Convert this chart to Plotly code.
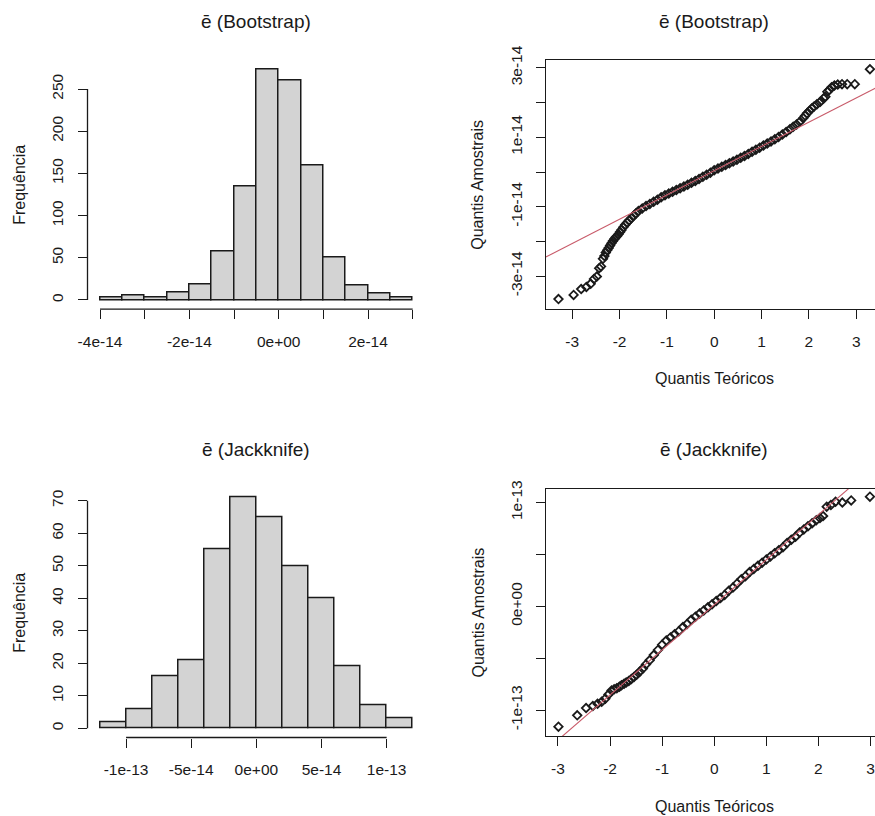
import numpy as np
import plotly.graph_objects as go

# ---------------- data ----------------
# Histogram of bootstrap means
boot_bin_edges = [-4.0e-14, -3.5e-14, -3.0e-14, -2.5e-14, -2.0e-14, -1.5e-14, -1.0e-14, -0.5e-14,
                  0.0, 0.5e-14, 1.0e-14, 1.5e-14, 2.0e-14, 2.5e-14, 3.0e-14]
boot_counts = [3, 6, 3, 9, 18, 58, 135, 273, 260, 160, 50, 17, 8, 3]
boot_hist_xticks = [-4e-14, -3e-14, -2e-14, -1e-14, 0.0, 1e-14, 2e-14, 3e-14]
boot_hist_xtext = ["-4e-14", "", "-2e-14", "", "0e+00", "", "2e-14", ""]
boot_hist_yticks = [0, 50, 100, 150, 200, 250]

# Histogram of jackknife means
jack_bin_edges = [-1.2e-13, -1.0e-13, -0.8e-13, -0.6e-13, -0.4e-13, -0.2e-13, 0.0,
                  0.2e-13, 0.4e-13, 0.6e-13, 0.8e-13, 1.0e-13, 1.2e-13]
jack_counts = [2, 6, 16, 21, 55, 71, 65, 50, 40, 19, 7, 3]
jack_hist_xticks = [-1e-13, -5e-14, 0.0, 5e-14, 1e-13]
jack_hist_xtext = ["-1e-13", "-5e-14", "0e+00", "5e-14", "1e-13"]
jack_hist_yticks = [0, 10, 20, 30, 40, 50, 60, 70]

# Normal QQ plot, bootstrap (theoretical quantile, sample quantile in units of 1e-14)
boot_qq_theoretical = [
    -3.29, -2.97, -2.81, -2.70, -2.61, -2.54, -2.48, -2.43, -2.39, -2.35, -2.32, -2.29, -2.26,
    -2.23, -2.20, -2.17, -2.14, -2.11, -2.08, -2.05, -2.02, -1.99, -1.96, -1.92, -1.88, -1.84,
    -1.80, -1.75, -1.70, -1.65,
    -1.60, -1.52, -1.44, -1.36, -1.28, -1.20, -1.12, -1.04, -0.96, -0.88, -0.80, -0.72, -0.64,
    -0.56, -0.48, -0.40, -0.32, -0.24, -0.16, -0.08, 0.00, 0.08, 0.16, 0.24, 0.32, 0.40, 0.48,
    0.56, 0.64, 0.72, 0.80, 0.88, 0.96, 1.04, 1.12, 1.20, 1.28, 1.36, 1.44, 1.52, 1.60, 1.67,
    1.74, 1.81, 1.88, 1.92, 1.96, 2.01, 2.06, 2.11, 2.17, 2.24, 2.31, 2.35, 2.39, 2.43, 2.48,
    2.54, 2.61, 2.70, 2.81, 2.97, 3.29]
boot_qq_sample_e14 = [
    -3.66, -3.54, -3.37, -3.31, -3.22, -3.08, -3.01, -2.77, -2.72, -2.50, -2.42, -2.32, -2.25,
    -2.19, -2.12, -2.05, -1.99, -1.93, -1.88, -1.84, -1.79, -1.73, -1.67, -1.59, -1.52, -1.46,
    -1.40, -1.33, -1.26, -1.19,
    -1.12, -1.05, -0.98, -0.92, -0.86, -0.80, -0.73, -0.67, -0.62, -0.57, -0.52, -0.47, -0.42,
    -0.37, -0.31, -0.26, -0.20, -0.14, -0.08, -0.02, 0.05, 0.10, 0.15, 0.20, 0.25, 0.30, 0.35,
    0.41, 0.46, 0.52, 0.58, 0.64, 0.70, 0.76, 0.82, 0.88, 0.94, 1.01, 1.08, 1.15, 1.23, 1.30,
    1.37, 1.45, 1.55, 1.62, 1.69, 1.76, 1.83, 1.89, 1.95, 2.02, 2.12, 2.17, 2.31, 2.36, 2.44,
    2.49, 2.52, 2.53, 2.53, 2.53, 2.96]
boot_qqline_intercept = 0.037e-14
boot_qqline_slope = 0.699e-14
boot_qq_yticks = [-3e-14, -2e-14, -1e-14, 0.0, 1e-14, 2e-14, 3e-14]
boot_qq_ytext = ["-3e-14", "", "-1e-14", "", "1e-14", "", "3e-14"]

# Normal QQ plot, jackknife (theoretical quantile, sample quantile in units of 1e-13)
jack_qq_theoretical = [
    -2.99, -2.63, -2.46, -2.33, -2.24, -2.16, -2.09, -2.03, -1.97, -1.92, -1.87, -1.82, -1.78,
    -1.73, -1.69, -1.64, -1.59, -1.54, -1.49, -1.43, -1.37, -1.31,
    -1.24, -1.16, -1.08, -1.00, -0.92, -0.84, -0.76, -0.68, -0.60, -0.52, -0.44, -0.36, -0.28,
    -0.20, -0.12, -0.04, 0.04, 0.12, 0.20, 0.28, 0.36, 0.44, 0.52, 0.60, 0.68, 0.76, 0.84,
    0.92, 1.00, 1.08, 1.16, 1.24, 1.32, 1.40, 1.48, 1.56, 1.64, 1.72, 1.80, 1.88, 1.96, 2.03,
    2.09, 2.16, 2.24, 2.33, 2.46, 2.63, 2.99]
jack_qq_sample_e13 = [
    -1.16, -1.05, -0.98, -0.96, -0.94, -0.92, -0.89, -0.85, -0.81, -0.80, -0.79, -0.775, -0.76,
    -0.745, -0.735, -0.72, -0.70, -0.68, -0.66, -0.63, -0.60, -0.56,
    -0.52, -0.47, -0.42, -0.37, -0.33, -0.30, -0.27, -0.24, -0.20, -0.17, -0.13, -0.10, -0.07,
    -0.04, -0.01, 0.02, 0.05, 0.08, 0.11, 0.15, 0.18, 0.22, 0.26, 0.29, 0.33, 0.36, 0.39,
    0.42, 0.45, 0.48, 0.51, 0.54, 0.57, 0.61, 0.64, 0.67, 0.71, 0.74, 0.77, 0.80, 0.83, 0.85,
    0.87, 0.96, 0.976, 1.008, 1.00, 1.02, 1.056]
jack_qqline_intercept = 0.0135e-13
jack_qqline_slope = 0.434e-13
jack_qq_yticks = [-1e-13, -5e-14, 0.0, 5e-14, 1e-13]
jack_qq_ytext = ["-1e-13", "", "0e+00", "", "1e-13"]

qq_xticks = [-3, -2, -1, 0, 1, 2, 3]
qq_xtext = ["-3", "-2", "-1", "0", "1", "2", "3"]

# ---------------- layout helpers ----------------
W, H = 875, 816
FONT = "Liberation Sans, Arial, sans-serif"
INK = "#1a1a1a"
TICKFONT = dict(family=FONT, size=15.5, color=INK)


def xf(px):
    return px / W


def yf(py):
    return 1 - py / H


def r_range(lo, hi):
    pad = 0.04 * (hi - lo)
    return [lo - pad, hi + pad]


fig = go.Figure()

# histograms
for edges, counts, xa, ya in [(boot_bin_edges, boot_counts, "x", "y"),
                               (jack_bin_edges, jack_counts, "x3", "y3")]:
    e = np.array(edges)
    fig.add_trace(go.Bar(
        x=(e[:-1] + e[1:]) / 2, y=counts, width=np.diff(e),
        marker=dict(color="#D3D3D3", line=dict(color=INK, width=1.5)),
        xaxis=xa, yaxis=ya, showlegend=False, hoverinfo="skip"))

# qq plots
boot_sample = np.array(boot_qq_sample_e14) * 1e-14
jack_sample = np.array(jack_qq_sample_e13) * 1e-13
for theo, samp, a, b, xa, ya in [
        (boot_qq_theoretical, boot_sample, boot_qqline_intercept, boot_qqline_slope, "x2", "y2"),
        (jack_qq_theoretical, jack_sample, jack_qqline_intercept, jack_qqline_slope, "x4", "y4")]:
    fig.add_trace(go.Scatter(
        x=theo, y=samp, mode="markers",
        marker=dict(symbol="diamond-open", size=6.5, color=INK, line=dict(width=1.8, color=INK)),
        xaxis=xa, yaxis=ya, showlegend=False, hoverinfo="skip"))
    lx = np.array([-4.0, 4.0])
    fig.add_trace(go.Scatter(
        x=lx, y=a + b * lx, mode="lines",
        line=dict(color="rgb(200,90,105)", width=1.1),
        xaxis=xa, yaxis=ya, showlegend=False, hoverinfo="skip"))

# panel geometry (pixels)
HIST_L, HIST_R = 87.5, 425.2
QQ_L = 546
TOP_T, TOP_B = 60.4, 309.2
BOT_T, BOT_B = 488.2, 737.5

common_ax = dict(showgrid=False, zeroline=False, ticks="outside", ticklen=9, tickwidth=1.3,
                 tickcolor=INK, tickfont=TICKFONT, fixedrange=True)

boot_x_range = r_range(boot_bin_edges[0], boot_bin_edges[-1])
jack_x_range = r_range(jack_bin_edges[0], jack_bin_edges[-1])
boot_y_range = r_range(0, max(boot_counts))
jack_y_range = r_range(0, max(jack_counts))


def qq_xrange(theo):
    lo, hi = r_range(min(theo), max(theo))
    # the right part of the panel is cut off by the image edge
    frac = (W - QQ_L) / (W - QQ_L + 7.4)
    return [lo, lo + (hi - lo) * frac]


fig.update_layout(
    width=W, height=H, margin=dict(l=0, r=0, t=0, b=0, autoexpand=False),
    paper_bgcolor="white", plot_bgcolor="white", showlegend=False,
    bargap=0,
    xaxis=dict(domain=[xf(HIST_L), xf(HIST_R)], range=boot_x_range, anchor="y",
               tickvals=boot_hist_xticks, ticktext=boot_hist_xtext, showline=False,
               ticklabelstandoff=9, **common_ax),
    yaxis=dict(domain=[yf(TOP_B), yf(TOP_T)], range=boot_y_range, anchor="x",
               tickvals=boot_hist_yticks, ticktext=[str(v) for v in boot_hist_yticks],
               tickangle=-90, showline=False, ticklabelstandoff=8, **common_ax),
    xaxis2=dict(domain=[xf(QQ_L), 1.0], range=qq_xrange(boot_qq_theoretical), anchor="y2",
                tickvals=qq_xticks, ticktext=qq_xtext, showline=True, mirror=True,
                linecolor=INK, linewidth=1.3, ticklabelstandoff=9, **common_ax),
    yaxis2=dict(domain=[yf(309.3), yf(60.3)], range=[-3.954e-14, 3.217e-14], anchor="x2",
                tickvals=boot_qq_yticks, ticktext=boot_qq_ytext, tickangle=-90,
                showline=True, mirror=False, linecolor=INK, linewidth=1.3,
                ticklabelstandoff=8, **common_ax),
    xaxis3=dict(domain=[xf(HIST_L), xf(HIST_R)], range=jack_x_range, anchor="y3",
                tickvals=jack_hist_xticks, ticktext=jack_hist_xtext, showline=False,
                ticklabelstandoff=9, **common_ax),
    yaxis3=dict(domain=[yf(BOT_B), yf(BOT_T)], range=jack_y_range, anchor="x3",
                tickvals=jack_hist_yticks, ticktext=[str(v) for v in jack_hist_yticks],
                tickangle=-90, showline=False, ticklabelstandoff=8, **common_ax),
    xaxis4=dict(domain=[xf(QQ_L), 1.0], range=qq_xrange(jack_qq_theoretical), anchor="y4",
                tickvals=qq_xticks, ticktext=qq_xtext, showline=True, mirror=True,
                linecolor=INK, linewidth=1.3, ticklabelstandoff=9, **common_ax),
    yaxis4=dict(domain=[yf(736), yf(489)], range=[-1.2495e-13, 1.130e-13], anchor="x4",
                tickvals=jack_qq_yticks, ticktext=jack_qq_ytext, tickangle=-90,
                showline=True, mirror=False, linecolor=INK, linewidth=1.3,
                ticklabelstandoff=8, **common_ax),
)

# R-style detached axis lines for the histograms (span first..last tick)
shapes = []
for xa, ya, xt, yt, top, bot in [("x", "y", boot_hist_xticks, boot_hist_yticks, TOP_T, TOP_B),
                                   ("x3", "y3", jack_hist_xticks, jack_hist_yticks, BOT_T, BOT_B)]:
    shapes.append(dict(type="line", xref=xa, yref="paper", x0=xt[0], x1=xt[-1],
                       y0=yf(bot), y1=yf(bot), line=dict(color=INK, width=1.3)))
    shapes.append(dict(type="line", xref="paper", yref=ya, x0=xf(HIST_L), x1=xf(HIST_L),
                       y0=yt[0], y1=yt[-1], line=dict(color=INK, width=1.3)))
fig.update_layout(shapes=shapes)

# titles and axis labels
ann = []
TITLE_FONT = dict(family=FONT, size=19, color=INK)
LAB_FONT = dict(family=FONT, size=16, color=INK)
for txt, px, py in [("ē (Bootstrap)", 256, 21), ("ē (Bootstrap)", 714, 21),
                    ("ē (Jackknife)", 256, 449), ("ē (Jackknife)", 714, 449)]:
    ann.append(dict(text=txt, x=xf(px), y=yf(py), xref="paper", yref="paper",
                    showarrow=False, xanchor="center", yanchor="middle", font=TITLE_FONT))
for txt, px, py, ang in [("Frequência", 20, 184.8, -90), ("Frequência", 20, 612.8, -90),
                         ("Quantis Amostrais", 478, 184.8, -90),
                         ("Quantis Amostrais", 478, 612.5, -90),
                         ("Quantis Teóricos", 714, 378.7, 0), ("Quantis Teóricos", 714, 806.7, 0)]:
    ann.append(dict(text=txt, x=xf(px), y=yf(py), xref="paper", yref="paper",
                    showarrow=False, xanchor="center", yanchor="middle", textangle=ang,
                    font=LAB_FONT))
fig.update_layout(annotations=ann)

fig.write_html("out.html",
               post_script="document.documentElement.style.margin='0';"
                           "document.body.style.margin='0';"
                           "document.body.style.overflow='hidden';")
